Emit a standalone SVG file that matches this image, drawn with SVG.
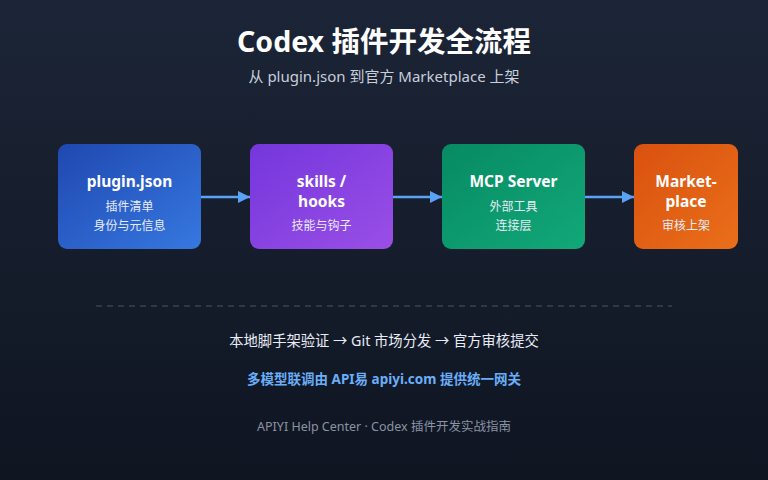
<svg xmlns="http://www.w3.org/2000/svg" width="768" height="480" viewBox="0 0 768 480">
<defs>
<linearGradient id="bg" x1="0" y1="0" x2="0" y2="1"><stop offset="0" stop-color="#1c2537"/><stop offset="1" stop-color="#0f1521"/></linearGradient>
<linearGradient id="g1" x1="0" y1="0" x2="1" y2="1"><stop offset="0" stop-color="#1f48b0"/><stop offset="1" stop-color="#3678e0"/></linearGradient>
<linearGradient id="g2" x1="0" y1="0" x2="1" y2="1"><stop offset="0" stop-color="#7436dc"/><stop offset="1" stop-color="#9a4fe6"/></linearGradient>
<linearGradient id="g3" x1="0" y1="0" x2="1" y2="1"><stop offset="0" stop-color="#078a63"/><stop offset="1" stop-color="#12a878"/></linearGradient>
<linearGradient id="g4" x1="0" y1="0" x2="1" y2="1"><stop offset="0" stop-color="#d9510f"/><stop offset="1" stop-color="#ea6f1a"/></linearGradient>
<marker id="ah" viewBox="0 0 10 10" refX="10" refY="5" markerWidth="5" markerHeight="5" orient="auto"><path d="M0,0L10,5L0,10z" fill="#5aa2f5"/></marker>
<style>
text{font-family:"Noto Sans","Noto Sans CJK SC",sans-serif;text-anchor:middle;fill:#fff}
.t{font-size:15.5px;font-weight:700}
.s{font-size:12px;fill:#e8ecf6}
.c{stroke:#5aa2f5;stroke-width:2.5;fill:none;marker-end:url(#ah)}
</style>
</defs>
<rect width="768" height="480" fill="url(#bg)"/>
<text x="384" y="52" style="font-size:28.5px;font-weight:700">Codex 插件开发全流程</text>
<text x="384" y="82" style="font-size:15px;fill:#c8cfdc">从 plugin.json 到官方 Marketplace 上架</text>
<g id="connectors">
<line class="c" x1="201" y1="197" x2="250" y2="197"/>
<line class="c" x1="393" y1="197" x2="442" y2="197"/>
<line class="c" x1="585" y1="197" x2="634" y2="197"/>
</g>
<g id="n1"><rect x="58" y="144" width="143" height="105" rx="9" fill="url(#g1)"/>
<text class="t" x="129.5" y="187">plugin.json</text><text class="s" x="129.5" y="211">插件清单</text><text class="s" x="129.5" y="230">身份与元信息</text></g>
<g id="n2"><rect x="250" y="144" width="143" height="105" rx="9" fill="url(#g2)"/>
<text class="t" x="321.5" y="187">skills /</text><text class="t" x="321.5" y="207">hooks</text><text class="s" x="321.5" y="230">技能与钩子</text></g>
<g id="n3"><rect x="442" y="144" width="143" height="105" rx="9" fill="url(#g3)"/>
<text class="t" x="513.5" y="187">MCP Server</text><text class="s" x="513.5" y="211">外部工具</text><text class="s" x="513.5" y="230">连接层</text></g>
<g id="n4"><rect x="634" y="144" width="104" height="105" rx="9" fill="url(#g4)"/>
<text class="t" x="686" y="187">Market-</text><text class="t" x="686" y="207">place</text><text class="s" x="686" y="230">审核上架</text></g>
<line x1="96" y1="306" x2="672" y2="306" stroke="#4a5468" stroke-dasharray="6 5"/>
<text x="384" y="346" style="font-size:14.3px;fill:#e8ecf6">本地脚手架验证 → Git 市场分发 → 官方审核提交</text>
<text x="384" y="384" style="font-size:13.5px;font-weight:700;fill:#6aaef8">多模型联调由 API易 apiyi.com 提供统一网关</text>
<text x="384" y="431" style="font-size:12.5px;fill:#8a93a5">APIYI Help Center · Codex 插件开发实战指南</text>
</svg>
